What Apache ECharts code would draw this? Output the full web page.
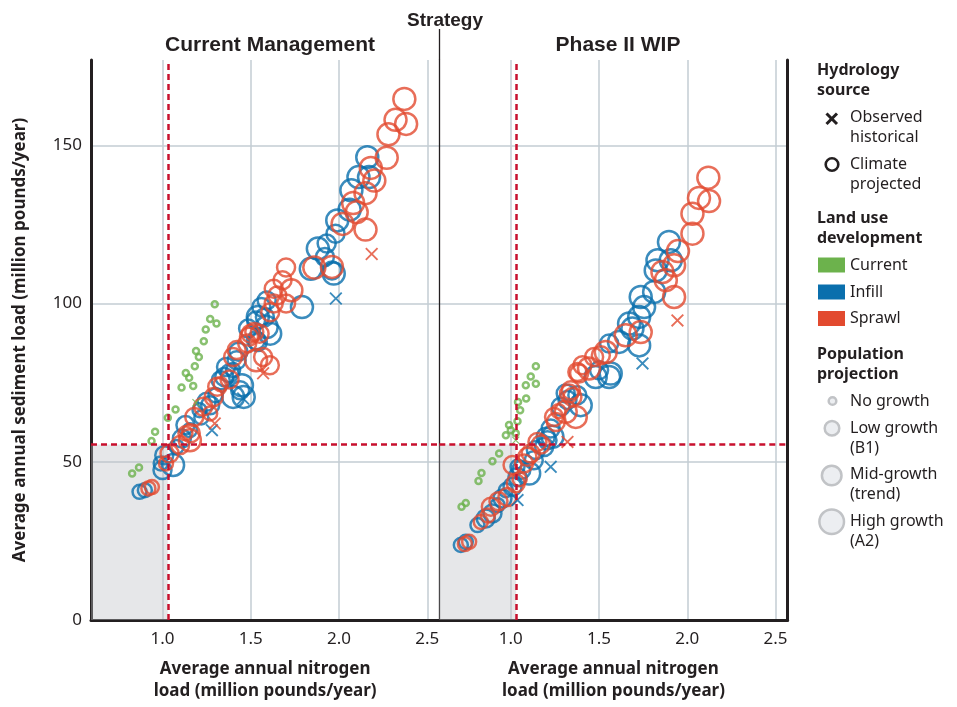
<!DOCTYPE html>
<html>
<head>
<meta charset="utf-8">
<script src="https://cdn.jsdelivr.net/npm/echarts@6/dist/echarts.min.js"></script>
<style>
  html, body { margin: 0; padding: 0; background: #fff; }
  #chart { width: 957px; height: 707px; }
</style>
</head>
<body>
<div id="chart"></div>
<script>
// Nitrogen vs. sediment loads under two management strategies.
// Each point: [nitrogen (million lb/yr), sediment (million lb/yr), population projection]
// population projection: 0 = no growth, 1 = low growth (B1), 2 = mid-growth (trend), 3 = high growth (A2)

// ---- Current Management ----
const cmCurrentProj = [
  [0.828, 46.3, 0], [0.867, 48.2, 0], [0.938, 56.6, 0], [0.958, 59.5, 0], [1.030, 63.9, 0],
  [1.074, 66.5, 0], [1.108, 73.5, 0], [1.174, 74.0, 0], [1.132, 78.1, 0], [1.151, 76.6, 0],
  [1.183, 80.2, 0], [1.190, 85.0, 0], [1.206, 83.1, 0], [1.234, 88.1, 0], [1.245, 91.8, 0],
  [1.270, 95.1, 0], [1.306, 93.7, 0], [1.296, 99.8, 0]
];
const cmCurrentObs = [[1.190, 68.7, 0]];

const cmInfillProj = [
  [0.87, 40.5, 1], [0.90, 41.0, 1], [1.00, 47.4, 2], [0.99, 49.5, 1], [1.01, 52.1, 2],
  [1.06, 49.0, 3], [1.08, 54.7, 1], [1.11, 57.4, 2], [1.155, 60.0, 1], [1.13, 61.6, 2],
  [1.21, 66.3, 1], [1.27, 67.9, 2], [1.22, 64.0, 1], [1.25, 69.0, 2], [1.30, 71.0, 1],
  [1.36, 80.0, 2], [1.38, 78.0, 2], [1.40, 79.0, 1], [1.35, 76.8, 2], [1.33, 75.8, 2],
  [1.40, 70.5, 3], [1.44, 72.6, 2], [1.46, 70.5, 3], [1.45, 74.2, 3], [1.43, 84.8, 2],
  [1.42, 82.1, 2], [1.485, 92.1, 2], [1.53, 88.4, 2], [1.54, 87.9, 2], [1.53, 94.7, 2],
  [1.54, 95.8, 3], [1.56, 98.9, 2], [1.58, 95.8, 2], [1.59, 92.6, 3], [1.59, 101.0, 2],
  [1.61, 90.5, 3], [1.79, 98.9, 3], [1.84, 111.0, 3], [1.88, 117.4, 3], [1.93, 119.0, 2],
  [1.97, 109.5, 3], [1.96, 110.5, 2], [1.99, 126.3, 3], [1.98, 122.1, 2], [2.06, 129.7, 3],
  [2.07, 135.8, 3], [2.11, 140.0, 3], [2.17, 140.0, 3], [2.16, 146.3, 3], [1.92, 114.7, 2]
];
const cmInfillObs = [[1.28, 60.0, 1], [1.457, 70.0, 2], [1.982, 101.6, 3]];

const cmSprawlProj = [
  [0.92, 41.6, 1], [0.94, 42.0, 1], [1.02, 49.5, 1], [1.04, 52.6, 2], [1.10, 55.3, 2],
  [1.13, 59.0, 1], [1.155, 56.8, 3], [1.16, 59.0, 2], [1.18, 64.2, 2], [1.23, 67.4, 2],
  [1.27, 65.3, 1], [1.29, 70.5, 2], [1.31, 73.7, 2], [1.33, 74.5, 1], [1.38, 76.0, 2],
  [1.40, 83.1, 2], [1.42, 85.3, 2], [1.48, 87.4, 2], [1.50, 90.5, 2], [1.55, 90.5, 2],
  [1.53, 82.1, 3], [1.57, 83.1, 2], [1.608, 80.5, 2], [1.52, 91.0, 2], [1.49, 89.5, 2],
  [1.61, 97.3, 2], [1.65, 102.6, 2], [1.70, 100.0, 2], [1.63, 104.7, 2], [1.68, 107.4, 2],
  [1.70, 111.4, 2], [1.73, 104.2, 3], [1.63, 100.0, 2], [1.86, 111.4, 3], [1.96, 111.6, 3],
  [2.02, 125.2, 3], [2.10, 128.9, 3], [2.08, 131.8, 3], [2.15, 134.9, 3], [2.15, 123.4, 3],
  [2.20, 138.9, 3], [2.18, 142.9, 3], [2.27, 146.1, 3], [2.28, 153.5, 3], [2.32, 158.1, 3],
  [2.38, 156.8, 3], [2.37, 164.7, 3]
];
const cmSprawlObs = [[1.296, 62.1, 1], [1.57, 78.0, 2], [2.185, 115.7, 3]];

// ---- Phase II WIP ----
const wipCurrentProj = [
  [0.721, 35.8, 0], [0.745, 37.0, 0], [0.817, 43.9, 0], [0.834, 46.5, 0], [0.896, 50.2, 0],
  [0.934, 52.6, 0], [0.972, 58.4, 0], [1.000, 60.0, 0], [0.990, 61.6, 0], [1.038, 62.8, 0],
  [1.028, 59.0, 0], [1.053, 66.3, 0], [1.041, 68.9, 0], [1.087, 70.0, 0], [1.085, 74.2, 0],
  [1.113, 77.0, 0], [1.142, 74.7, 0], [1.142, 80.2, 0]
];
const wipCurrentObs = [[1.028, 56.8, 0]];

const wipInfillProj = [
  [0.717, 23.7, 1], [0.745, 24.7, 1], [0.811, 30.0, 1], [0.858, 32.1, 2], [0.896, 33.7, 2],
  [0.925, 36.3, 1], [0.953, 38.4, 2], [0.972, 41.0, 1], [1.01, 42.1, 2], [1.038, 45.2, 2],
  [1.038, 48.4, 1], [1.06, 47.5, 2], [1.104, 46.3, 3], [1.142, 53.7, 2], [1.13, 50.5, 2],
  [1.189, 54.7, 2], [1.208, 56.8, 2], [1.236, 57.9, 3], [1.226, 60.5, 2], [1.198, 57.9, 2],
  [1.283, 67.4, 2], [1.321, 69.5, 2], [1.311, 71.6, 2], [1.396, 67.9, 3], [1.377, 71.0, 2],
  [1.481, 76.8, 3], [1.557, 76.8, 3], [1.50, 78.9, 2], [1.566, 77.9, 3], [1.557, 87.4, 2],
  [1.613, 87.9, 3], [1.67, 93.7, 3], [1.689, 92.1, 3], [1.727, 86.8, 3], [1.727, 95.8, 3],
  [1.736, 102.1, 3], [1.755, 98.9, 3], [1.812, 103.7, 3], [1.821, 110.5, 3], [1.831, 113.7, 3],
  [1.906, 113.7, 3], [1.896, 119.5, 3]
];
const wipInfillObs = [[1.038, 37.9, 1], [1.226, 48.4, 2], [1.746, 81.1, 3]];

const wipSprawlProj = [
  [0.764, 24.7, 1], [0.740, 24.0, 1], [0.83, 31.0, 1], [0.87, 33.0, 1], [0.887, 35.8, 2],
  [0.93, 37.5, 2], [0.981, 38.9, 2], [1.028, 43.2, 2], [1.05, 44.5, 1], [1.01, 49.0, 2],
  [1.075, 49.5, 2], [1.094, 51.6, 2], [1.113, 52.6, 2], [1.151, 56.3, 2], [1.17, 55.5, 2],
  [1.255, 62.6, 2], [1.245, 64.2, 2], [1.27, 66.0, 1], [1.311, 65.8, 3], [1.349, 70.5, 2],
  [1.34, 72.6, 2], [1.368, 64.2, 3], [1.33, 71.6, 2], [1.377, 78.4, 2], [1.387, 77.9, 2],
  [1.406, 80.5, 2], [1.443, 79.5, 3], [1.472, 83.1, 2], [1.51, 83.7, 2], [1.538, 84.7, 3],
  [1.651, 90.0, 3], [1.736, 91.0, 3], [1.859, 110.0, 3], [1.878, 107.4, 3], [1.925, 112.1, 3],
  [1.925, 102.1, 3], [1.947, 116.6, 3], [2.029, 122.1, 3], [2.029, 128.4, 3], [2.066, 133.4, 3],
  [2.123, 132.4, 3], [2.119, 139.8, 3]
];
const wipSprawlObs = [[1.321, 56.3, 2], [1.944, 94.7, 3]];

// Axis ticks and reference thresholds
const xTicks = [1.0, 1.5, 2.0, 2.5];
const yTicks = [0, 50, 100, 150];
const nitrogenTarget = 1.03;
const sedimentTarget = 55.5;

const strategies = ['Current Management', 'Phase II WIP'];

// ---- styling ----
const INK = '#231f20';
const GRID = '#c3ccd3';
const TARGET = '#c8102e';
const COLORS = { current: '#6cb24c', infill: '#0a6fad', sprawl: '#e24a2f' };
const SANS = '"Noto Sans", "Open Sans", sans-serif';
const NARROW = '"Liberation Sans Narrow", "Liberation Sans", sans-serif';
const X_MIN = 0.595, X_MAX = 2.568, Y_MIN = 0, Y_MAX = 177;
const circleSize = [6, 14, 18, 22];
const crossSize = [8, 13, 13, 13];
const CROSS = 'path://M2,0L10,8L18,0L20,2L12,10L20,18L18,20L10,12L2,20L0,18L8,10L0,2Z';

function projSeries(data, color, gi) {
  return {
    type: 'scatter', xAxisIndex: gi, yAxisIndex: gi, data: data,
    symbol: 'circle',
    symbolSize: v => circleSize[v[2]],
    itemStyle: { color: 'rgba(0,0,0,0)', borderColor: color, borderWidth: 2.5 },
    silent: true, z: 3
  };
}
function obsSeries(data, color, gi) {
  return {
    type: 'scatter', xAxisIndex: gi, yAxisIndex: gi, data: data,
    symbol: CROSS,
    symbolSize: v => crossSize[v[2]],
    itemStyle: { color: color, borderWidth: 0 },
    silent: true, z: 4
  };
}
function targetSeries(gi) {
  return {
    type: 'scatter', xAxisIndex: gi, yAxisIndex: gi, data: [], silent: true, z: 2,
    markArea: {
      silent: true,
      itemStyle: { color: 'rgba(188,191,196,0.38)' },
      data: [[{ xAxis: X_MIN, yAxis: 0 }, { xAxis: nitrogenTarget, yAxis: sedimentTarget }]]
    },
    markLine: {
      silent: true, symbol: 'none', label: { show: false },
      lineStyle: { color: TARGET, type: [6, 4], width: 2.5 },
      data: [{ xAxis: nitrogenTarget }, { yAxis: sedimentTarget }]
    }
  };
}

const panels = [
  { current: [cmCurrentProj, cmCurrentObs], infill: [cmInfillProj, cmInfillObs], sprawl: [cmSprawlProj, cmSprawlObs] },
  { current: [wipCurrentProj, wipCurrentObs], infill: [wipInfillProj, wipInfillObs], sprawl: [wipSprawlProj, wipSprawlObs] }
];

const series = [];
panels.forEach((p, gi) => {
  series.push(targetSeries(gi));
  series.push(projSeries(p.current[0], COLORS.current, gi));
  series.push(projSeries(p.infill[0], COLORS.infill, gi));
  series.push(projSeries(p.sprawl[0], COLORS.sprawl, gi));
  series.push(obsSeries(p.current[1], COLORS.current, gi));
  series.push(obsSeries(p.infill[1], COLORS.infill, gi));
  series.push(obsSeries(p.sprawl[1], COLORS.sprawl, gi));
});

function xAxis(gi) {
  return {
    type: 'value', gridIndex: gi, min: X_MIN, max: X_MAX,
    axisLine: { show: true, onZero: false, lineStyle: { color: INK, width: 3 } },
    axisTick: { show: false, customValues: xTicks },
    axisLabel: { customValues: xTicks, formatter: v => v.toFixed(1), color: INK, fontSize: 17, margin: 11, fontFamily: SANS },
    splitLine: { show: true, lineStyle: { color: GRID, width: 1.5 } },
    name: 'Average annual nitrogen\nload (million pounds/year)',
    nameLocation: 'middle', nameGap: 38,
    nameTextStyle: { fontWeight: 'bold', fontSize: 17, lineHeight: 22, color: INK, fontFamily: SANS }
  };
}
function yAxis(gi) {
  return {
    type: 'value', gridIndex: gi, min: Y_MIN, max: Y_MAX, position: 'left',
    axisLine: { show: true, onZero: false, lineStyle: { color: INK, width: gi === 0 ? 3 : 1.3 } },
    axisTick: { show: false, customValues: yTicks },
    axisLabel: { show: gi === 0, customValues: yTicks, color: INK, fontSize: 17, margin: 9, fontFamily: SANS },
    splitLine: { show: true, lineStyle: { color: GRID, width: 1.5 } },
    name: gi === 0 ? 'Average annual sediment load (million pounds/year)' : '',
    nameLocation: 'middle', nameGap: 62,
    nameTextStyle: { fontWeight: 'bold', fontSize: 17, color: INK, fontFamily: SANS }
  };
}

// legend drawn as graphic elements
function text(x, y, s, bold) {
  return {
    type: 'text', silent: true,
    style: { x: x, y: y, text: s, fill: INK, fontSize: 16, fontWeight: bold ? 'bold' : 'normal',
             fontFamily: SANS, lineHeight: 20, verticalAlign: 'top' }
  };
}
function popCircle(cx, cy, r) {
  return { type: 'circle', silent: true, shape: { cx: cx, cy: cy, r: r },
           style: { fill: '#eceef1', stroke: '#c1c3c6', lineWidth: 2.5 } };
}
function swatch(y, color) {
  return { type: 'rect', silent: true, shape: { x: 818, y: y, width: 27, height: 15 }, style: { fill: color } };
}

const legend = [
  text(817, 60, 'Hydrology\nsource', true),
  { type: 'line', silent: true, shape: { x1: 826.5, y1: 113.5, x2: 837, y2: 124 }, style: { stroke: INK, lineWidth: 3 } },
  { type: 'line', silent: true, shape: { x1: 837, y1: 113.5, x2: 826.5, y2: 124 }, style: { stroke: INK, lineWidth: 3 } },
  text(850, 107.5, 'Observed\nhistorical'),
  { type: 'circle', silent: true, shape: { cx: 832, cy: 164.5, r: 6.3 }, style: { fill: 'none', stroke: INK, lineWidth: 2.6 } },
  text(850, 154.5, 'Climate\nprojected'),
  text(817, 208, 'Land use\ndevelopment', true),
  swatch(257.5, COLORS.current), text(850, 255, 'Current'),
  swatch(284.5, COLORS.infill), text(850, 282, 'Infill'),
  swatch(311, COLORS.sprawl), text(850, 308.5, 'Sprawl'),
  text(817, 344.5, 'Population\nprojection', true),
  popCircle(832.5, 401, 3.8), text(850, 391, 'No growth'),
  popCircle(832, 428.3, 7.3), text(850, 418, 'Low growth\n(B1)'),
  popCircle(831.7, 475.5, 9.8), text(850, 464.7, 'Mid-growth\n(trend)'),
  popCircle(831.7, 521.7, 12.3), text(850, 511, 'High growth\n(A2)'),
  // divider between the two strategy panels, above the plot area
  { type: 'line', silent: true, shape: { x1: 439.5, y1: 29, x2: 439.5, y2: 60 }, style: { stroke: INK, lineWidth: 1.3 } }
];

const option = {
  animation: false,
  backgroundColor: '#fff',
  title: [
    { text: 'Strategy', left: 440, top: 6, textAlign: 'center',
      textStyle: { fontSize: 19, fontWeight: 'bold', color: INK, fontFamily: NARROW } },
    { text: strategies[0], left: 265, top: 30, textAlign: 'center',
      textStyle: { fontSize: 21, fontWeight: 'bold', color: INK, fontFamily: NARROW } },
    { text: strategies[1], left: 613, top: 30, textAlign: 'center',
      textStyle: { fontSize: 21, fontWeight: 'bold', color: INK, fontFamily: NARROW } }
  ],
  grid: [
    { left: 91, top: 60, width: 348.3, height: 560 },
    { left: 439.3, top: 60, width: 348.3, height: 560 }
  ],
  xAxis: [xAxis(0), xAxis(1)],
  yAxis: [
    yAxis(0), yAxis(1),
    { type: 'value', gridIndex: 1, min: Y_MIN, max: Y_MAX, position: 'right',
      axisLine: { show: true, onZero: false, lineStyle: { color: INK, width: 3 } },
      axisTick: { show: false }, axisLabel: { show: false }, splitLine: { show: false } }
  ],
  graphic: legend,
  series: series
};

const chart = echarts.init(document.getElementById('chart'), null, { renderer: 'canvas' });
chart.setOption(option);
</script>
</body>
</html>
